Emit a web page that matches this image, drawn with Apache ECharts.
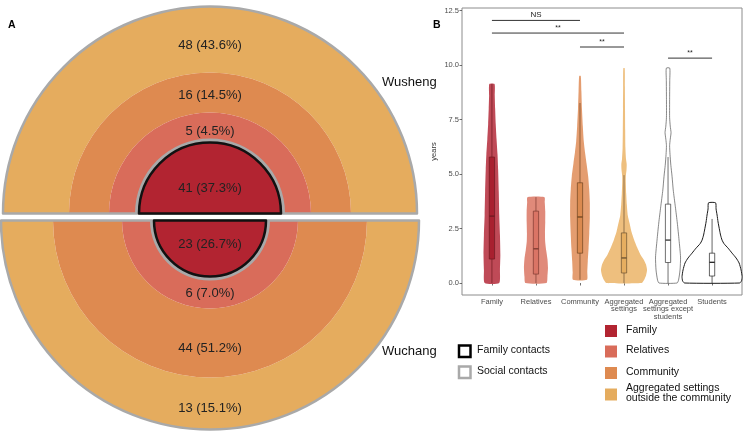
<!DOCTYPE html>
<html>
<head>
<meta charset="utf-8">
<script src="https://cdn.jsdelivr.net/npm/echarts@6/dist/echarts.min.js"></script>
<style>html,body{margin:0;padding:0;background:#fff}#c{width:750px;height:432px}</style>
</head>
<body>
<div id="c"></div>
<script>
// ---------- Panel A data ----------
const settingNames = ['Family', 'Relatives', 'Community', 'Aggregated settings outside the community'];
const wushengCounts = [41, 5, 16, 48];
const wushengPct = [37.3, 4.5, 14.5, 43.6];
const wuchangCounts = [23, 6, 44, 13];
const wuchangPct = [26.7, 7.0, 51.2, 15.1];

// ---------- Panel B data ----------
const categories = ['Family', 'Relatives', 'Community', 'Aggregated\nsettings', 'Aggregated\nsettings except\nstudents', 'Students'];
const yTicks = [0, 2.5, 5, 7.5, 10, 12.5];

// violin outlines: value (years) and half-width (x-axis units)
const familyViolinY = [0, 0.6, 1.3, 2.2, 3.1, 4.2, 5.2, 5.9, 6.6, 7.3, 8.0, 8.6, 9.13];
const familyViolinW = [0.164, 0.182, 0.191, 0.182, 0.166, 0.155, 0.141, 0.127, 0.105, 0.086, 0.073, 0.064, 0.059];
const relativesViolinY = [0, 0.3, 0.7, 1.1, 1.5, 1.9, 2.3, 2.8, 3.3, 3.7, 3.94];
const relativesViolinW = [0.239, 0.261, 0.273, 0.261, 0.232, 0.209, 0.205, 0.211, 0.211, 0.2, 0.193];
const communityViolinY = [0.15, 0.5, 1.0, 1.6, 2.3, 3.0, 3.7, 4.3, 4.9, 5.5, 6.0, 6.5, 7.2, 8.0, 8.8, 9.5];
const communityViolinW = [0.159, 0.166, 0.177, 0.195, 0.211, 0.223, 0.223, 0.209, 0.186, 0.148, 0.114, 0.086, 0.064, 0.045, 0.032, 0.018];
const aggregatedViolinY = [0, 0.14, 0.35, 0.6, 0.85, 1.05, 1.3, 1.65, 2.0, 2.35, 2.75, 3.1, 3.6, 4.1, 4.6, 4.9, 5.2, 5.45, 5.7, 6.2, 7.0, 8.0, 9.0, 9.86];
const aggregatedViolinW = [0.398, 0.455, 0.5, 0.523, 0.5, 0.455, 0.375, 0.295, 0.227, 0.17, 0.125, 0.086, 0.064, 0.05, 0.041, 0.041, 0.057, 0.061, 0.045, 0.032, 0.027, 0.023, 0.02, 0.016];
const exceptStudentsViolinY = [0, 0.14, 0.6, 1.19, 1.97, 2.75, 3.5, 4.27, 4.9, 5.4, 5.9, 6.3, 6.6, 6.9, 7.2, 7.6, 8.5, 9.3, 9.86];
const exceptStudentsViolinW = [0.205, 0.239, 0.273, 0.284, 0.25, 0.211, 0.166, 0.118, 0.091, 0.064, 0.045, 0.036, 0.05, 0.068, 0.05, 0.036, 0.036, 0.039, 0.039];
const studentsViolinY = [0, 0.1, 0.3, 0.6, 0.92, 1.15, 1.37, 1.6, 1.8, 1.97, 2.2, 2.43, 2.8, 3.12, 3.4, 3.68];
const studentsViolinW = [0.625, 0.67, 0.682, 0.659, 0.614, 0.545, 0.455, 0.364, 0.273, 0.227, 0.193, 0.17, 0.136, 0.114, 0.091, 0.08];

// box plots
const boxMin = [0, 0, 0.15, 0, 0, 0];
const boxQ1 = [1.1, 0.41, 1.37, 0.46, 0.94, 0.32];
const boxMedian = [3.07, 1.57, 3.03, 1.15, 1.97, 0.95];
const boxQ3 = [5.78, 3.3, 4.6, 2.3, 3.62, 1.37];
const boxMax = [9.13, 3.94, 8.26, 4.95, 5.78, 2.94];

// significance brackets: from category, to category, height, label
const bracketFrom = [1, 1, 3, 5];
const bracketTo = [3, 4, 4, 6];
const bracketY = [12.05, 11.47, 10.83, 10.32];
const bracketLabel = ['NS', '**', '**', '**'];

// ---------- styles ----------
const settingColors = ['#B22431', '#D96C5A', '#DE8A50', '#E5AC5E'];
const violinFill = ['#BF4A57', '#E08A7A', '#E49D70', '#EEBF7E', '#FFFFFF', '#FFFFFF'];
const violinStroke = ['#BF4A57', '#E08A7A', '#E49D70', '#EEBF7E', '#555555', '#1a1a1a'];
const violinLW = [0, 0, 0, 0, 0.7, 1];
const boxFill = ['#A8202F', '#DA7465', '#DB8A4F', '#E6AE60', '#FFFFFF', '#FFFFFF'];
const boxStroke = ['#6E1A20', '#7D3A30', '#6E4420', '#6A5030', '#333333', '#222222'];

const violinYs = [familyViolinY, relativesViolinY, communityViolinY, aggregatedViolinY, exceptStudentsViolinY, studentsViolinY];
const violinWs = [familyViolinW, relativesViolinW, communityViolinW, aggregatedViolinW, exceptStudentsViolinW, studentsViolinW];

const FONT = 'Liberation Sans, Arial, Helvetica, sans-serif';
const GRAY = '#A9A9A9';

function lbl(c, p) { return c + ' (' + p.toFixed(1) + '%)'; }

// ring geometry (layout)
const topCenter = [210, 213.5];
const botCenter = [210, 220.5];
const topRadii = [[0, 71], [71, 101], [101, 141], [141, 207]];
const botRadii = [[0, 56], [56, 88], [88, 157], [157, 209]];
// vertical label nudges (positive = down)
const topDy = [13, 7, 6, 9];
const botDy = [-7, -2, 2, 2];

function halfPie(center, radius, startAngle, name, color, dy, z, extra) {
  extra = extra || {};
  return {
    type: 'pie', center: center, radius: radius, startAngle: startAngle, clockwise: true,
    silent: true, animation: false, z: z,
    emphasis: { disabled: true },
    labelLine: { show: false },
    labelLayout: { dy: dy },
    label: { show: name !== null, position: 'inside', formatter: '{b}', fontSize: 13, color: '#222', fontFamily: FONT },
    data: [
      { name: name || '', value: 1, itemStyle: extra.itemStyle || { color: color, borderWidth: 0 } },
      { name: '', value: 1, itemStyle: { color: 'rgba(0,0,0,0)', borderWidth: 0 }, label: { show: false } }
    ]
  };
}

const series = [];
// Wusheng (top half)
for (let i = 3; i >= 1; i--) {
  series.push(halfPie(topCenter, topRadii[i], 180, lbl(wushengCounts[i], wushengPct[i]), settingColors[i], topDy[i], 2));
}
series.push(halfPie(topCenter, [0, 207], 180, null, null, 0, 3, { itemStyle: { color: 'rgba(0,0,0,0)', borderColor: GRAY, borderWidth: 2.5 } }));
series.push(halfPie(topCenter, [70, 75], 180, null, GRAY, 0, 4));
series.push(halfPie(topCenter, topRadii[0], 180, lbl(wushengCounts[0], wushengPct[0]), null, topDy[0], 5, { itemStyle: { color: settingColors[0], borderColor: '#111', borderWidth: 2.5 } }));
// Wuchang (bottom half)
for (let i = 3; i >= 1; i--) {
  series.push(halfPie(botCenter, botRadii[i], 0, lbl(wuchangCounts[i], wuchangPct[i]), settingColors[i], botDy[i], 2));
}
series.push(halfPie(botCenter, [0, 209], 0, null, null, 0, 3, { itemStyle: { color: 'rgba(0,0,0,0)', borderColor: GRAY, borderWidth: 2.5 } }));
series.push(halfPie(botCenter, [55, 60], 0, null, GRAY, 0, 4));
series.push(halfPie(botCenter, botRadii[0], 0, lbl(wuchangCounts[0], wuchangPct[0]), null, botDy[0], 5, { itemStyle: { color: settingColors[0], borderColor: '#111', borderWidth: 2.5 } }));

// Panel B: violins
series.push({
  type: 'custom', xAxisIndex: 0, yAxisIndex: 0, silent: true, animation: false, z: 2,
  data: categories.map((c, i) => [i + 1, 0]),
  encode: { x: 0, y: 1 },
  renderItem: function (params, api) {
    const i = params.dataIndex;
    const ys = violinYs[i], ws = violinWs[i], cx = i + 1;
    const right = ys.map((y, k) => api.coord([cx + ws[k], y]));
    const left = ys.map((y, k) => api.coord([cx - ws[k], y])).reverse();
    return {
      type: 'polygon', shape: { points: right.concat(left), smooth: 0.2 },
      style: { fill: violinFill[i], stroke: violinLW[i] ? violinStroke[i] : null, lineWidth: violinLW[i] }
    };
  }
});
// Panel B: boxplots
const boxHalf = 0.06;
series.push({
  type: 'custom', silent: true, animation: false, z: 3,
  data: categories.map((c, i) => [i + 1, boxMin[i], boxQ1[i], boxMedian[i], boxQ3[i], boxMax[i]]),
  encode: { x: 0, y: [1, 5] },
  renderItem: function (params, api) {
    const i = params.dataIndex, cx = api.value(0);
    const pMin = api.coord([cx, api.value(1)]);
    const pMax = api.coord([cx, api.value(5)]);
    const a = api.coord([cx - boxHalf, api.value(4)]);
    const b = api.coord([cx + boxHalf, api.value(2)]);
    const mL = api.coord([cx - boxHalf, api.value(3)]);
    const mR = api.coord([cx + boxHalf, api.value(3)]);
    const st = boxStroke[i];
    return {
      type: 'group', children: [
        { type: 'line', shape: { x1: pMin[0], y1: pMin[1], x2: pMax[0], y2: pMax[1] }, style: { stroke: st, lineWidth: 0.7 } },
        { type: 'rect', shape: { x: a[0], y: a[1], width: b[0] - a[0], height: b[1] - a[1] }, style: { fill: boxFill[i], stroke: st, lineWidth: 0.7 } },
        { type: 'line', shape: { x1: mL[0], y1: mL[1], x2: mR[0], y2: mR[1] }, style: { stroke: st, lineWidth: 1.3 } }
      ]
    };
  }
});
// Panel B: significance brackets
series.push({
  type: 'custom', silent: true, animation: false, z: 4,
  data: bracketLabel.map((t, i) => [bracketFrom[i], bracketTo[i], bracketY[i]]),
  encode: { x: [0, 1], y: 2 },
  renderItem: function (params, api) {
    const i = params.dataIndex;
    const p1 = api.coord([api.value(0), api.value(2)]);
    const p2 = api.coord([api.value(1), api.value(2)]);
    return {
      type: 'group', children: [
        { type: 'line', shape: { x1: p1[0], y1: p1[1], x2: p2[0], y2: p2[1] }, style: { stroke: '#333', lineWidth: 1 } },
        { type: 'text', style: { text: bracketLabel[i], x: (p1[0] + p2[0]) / 2, y: p1[1] - 1.5, align: 'center', verticalAlign: 'bottom', fontSize: bracketLabel[i] === 'NS' ? 8 : 7, fill: '#222', fontFamily: FONT } }
      ]
    };
  }
});

// graphic texts and legends
const graphic = [
  { type: 'text', left: 8, top: 20, style: { text: 'A', font: 'bold 10.5px ' + FONT, fill: '#000' } },
  { type: 'text', left: 433, top: 20, style: { text: 'B', font: 'bold 10.5px ' + FONT, fill: '#000' } },
  { type: 'text', left: 382, top: 76, style: { text: 'Wusheng', font: '13px ' + FONT, fill: '#111' } },
  { type: 'text', left: 382, top: 345, style: { text: 'Wuchang', font: '13px ' + FONT, fill: '#111' } },
  { type: 'rect', shape: { x: 459, y: 345.5, width: 11.5, height: 11.5 }, style: { fill: '#fff', stroke: '#000', lineWidth: 2.5 } },
  { type: 'rect', shape: { x: 459, y: 366.5, width: 11.5, height: 11.5 }, style: { fill: '#fff', stroke: GRAY, lineWidth: 2.5 } },
  { type: 'text', left: 477, top: 345, style: { text: 'Family contacts', font: '10.5px ' + FONT, fill: '#111' } },
  { type: 'text', left: 477, top: 366, style: { text: 'Social contacts', font: '10.5px ' + FONT, fill: '#111' } }
];
const legendY = [331, 351.5, 373, 394.5];
settingNames.forEach((n, i) => {
  graphic.push({ type: 'rect', shape: { x: 605, y: legendY[i] - 6, width: 12, height: 12 }, style: { fill: settingColors[i] } });
  const txt = i === 3 ? 'Aggregated settings\noutside the community' : n;
  graphic.push({ type: 'text', x: 626, y: legendY[i] - 1, style: { text: txt, font: '10.5px ' + FONT, fill: '#111', verticalAlign: 'middle', lineHeight: 10 } });
});

const option = {
  animation: false,
  textStyle: { fontFamily: FONT },
  grid: { left: 462, right: 8, top: 8, bottom: 137, show: true, borderColor: '#8c8c8c', borderWidth: 1, containLabel: false },
  xAxis: {
    type: 'value', min: 0.32, max: 6.68,
    axisLine: { show: false }, splitLine: { show: false },
    axisTick: { show: true, length: 2.5, lineStyle: { color: '#333', width: 0.7 }, customValues: [1, 2, 3, 4, 5, 6] },
    axisLabel: { customValues: [1, 2, 3, 4, 5, 6], formatter: v => categories[Math.round(v) - 1], fontSize: 7.5, color: '#4d4d4d', lineHeight: 7.5, margin: 3, verticalAlign: 'top' }
  },
  yAxis: {
    type: 'value', min: -0.55, max: 12.62,
    name: 'years', nameLocation: 'middle', nameGap: 24, nameTextStyle: { fontSize: 7.5, color: '#333' },
    axisLine: { show: false }, splitLine: { show: false },
    axisTick: { show: true, length: 2.5, lineStyle: { color: '#333', width: 0.7 }, customValues: yTicks },
    axisLabel: { customValues: yTicks, formatter: v => v.toFixed(1), fontSize: 7.5, color: '#4d4d4d', margin: 3 }
  },
  graphic: graphic,
  series: series
};
const chart = echarts.init(document.getElementById('c'), null, { renderer: 'canvas' });
chart.setOption(option);
</script>
</body>
</html>
